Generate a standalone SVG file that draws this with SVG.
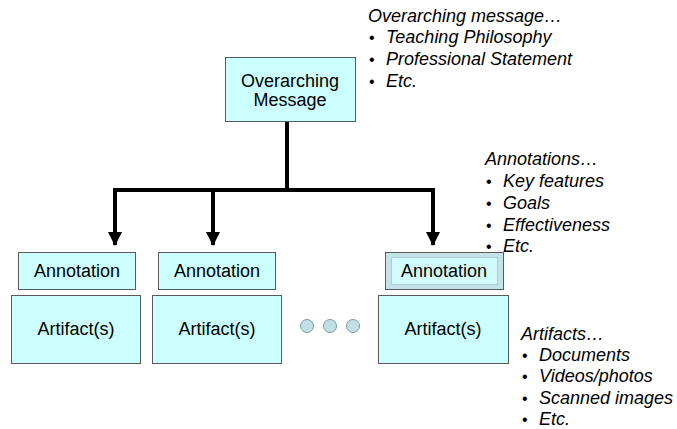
<svg xmlns="http://www.w3.org/2000/svg" width="677" height="429" viewBox="0 0 677 429">
<defs>
<marker id="ah" markerUnits="userSpaceOnUse" markerWidth="14" markerHeight="14" refX="13" refY="7" orient="auto" viewBox="0 0 14 14">
<path d="M0,0 L14,7 L0,14 Z" fill="#000"/>
</marker>
</defs>
<style>
.box{fill:#ccffff;stroke:#5a5a5a;stroke-width:1}
.lbl{font-family:"Liberation Sans",Arial,sans-serif;font-size:18px;fill:#000;text-anchor:middle}
.note{font-family:"Liberation Sans",Arial,sans-serif;font-size:18px;font-style:italic;fill:#000}
.bul{font-family:"Liberation Sans",Arial,sans-serif;font-size:16px;fill:#000}
.con{stroke:#000;stroke-width:4;fill:none}
.dot{fill:#c2dfe6;stroke:#7c9ca3;stroke-width:1}
</style>
<rect width="677" height="429" fill="#fff"/>
<g id="connectors">
<path class="con" d="M287,121 V190"/>
<path class="con" d="M113,190 H435"/>
<path class="con" d="M115,190 V245" marker-end="url(#ah)"/>
<path class="con" d="M213,190 V245" marker-end="url(#ah)"/>
<path class="con" d="M433,190 V245" marker-end="url(#ah)"/>
</g>
<g id="overarching">
<rect class="box" x="225.5" y="57.5" width="130" height="64"/>
<text class="lbl" x="290" y="87">Overarching</text>
<text class="lbl" x="290" y="106">Message</text>
</g>
<g id="annotation1">
<rect class="box" x="18.5" y="252.5" width="117" height="37"/>
<text class="lbl" x="77" y="277">Annotation</text>
</g>
<g id="annotation2">
<rect class="box" x="158.5" y="252.5" width="117" height="37"/>
<text class="lbl" x="217" y="277">Annotation</text>
</g>
<g id="annotation3">
<rect x="385.5" y="252.5" width="118" height="37" fill="#c4e3e8" stroke="#5a5a5a" stroke-width="1"/>
<rect x="391.5" y="257.5" width="106" height="27" fill="#d2fbfd" stroke="#a8d0d6" stroke-width="1"/>
<text class="lbl" x="444" y="277">Annotation</text>
</g>
<g id="artifact1">
<rect class="box" x="11.5" y="295.5" width="129" height="68"/>
<text class="lbl" x="76" y="335">Artifact(s)</text>
</g>
<g id="artifact2">
<rect class="box" x="152.5" y="295.5" width="129" height="68"/>
<text class="lbl" x="217" y="335">Artifact(s)</text>
</g>
<g id="artifact3">
<rect class="box" x="378.5" y="295.5" width="130" height="68"/>
<text class="lbl" x="443" y="335">Artifact(s)</text>
</g>
<g id="ellipsis">
<circle class="dot" cx="307" cy="326" r="6.5"/>
<circle class="dot" cx="330" cy="326" r="6.5"/>
<circle class="dot" cx="353" cy="326" r="6.5"/>
</g>
<g id="note-overarching">
<text class="note" x="368" y="22">Overarching message…</text>
<text class="bul" x="369" y="43">•</text><text class="note" x="386" y="43">Teaching Philosophy</text>
<text class="bul" x="369" y="65">•</text><text class="note" x="386" y="65">Professional Statement</text>
<text class="bul" x="369" y="87">•</text><text class="note" x="386" y="87">Etc.</text>
</g>
<g id="note-annotations">
<text class="note" x="485" y="165">Annotations…</text>
<text class="bul" x="486" y="187">•</text><text class="note" x="503" y="187">Key features</text>
<text class="bul" x="486" y="209">•</text><text class="note" x="503" y="209">Goals</text>
<text class="bul" x="486" y="231">•</text><text class="note" x="503" y="231">Effectiveness</text>
<text class="bul" x="486" y="252">•</text><text class="note" x="503" y="252">Etc.</text>
</g>
<g id="note-artifacts">
<text class="note" x="521" y="340">Artifacts…</text>
<text class="bul" x="522" y="361">•</text><text class="note" x="539" y="361">Documents</text>
<text class="bul" x="522" y="382">•</text><text class="note" x="539" y="382">Videos/photos</text>
<text class="bul" x="522" y="404">•</text><text class="note" x="539" y="404">Scanned images</text>
<text class="bul" x="522" y="425">•</text><text class="note" x="539" y="425">Etc.</text>
</g>
</svg>
